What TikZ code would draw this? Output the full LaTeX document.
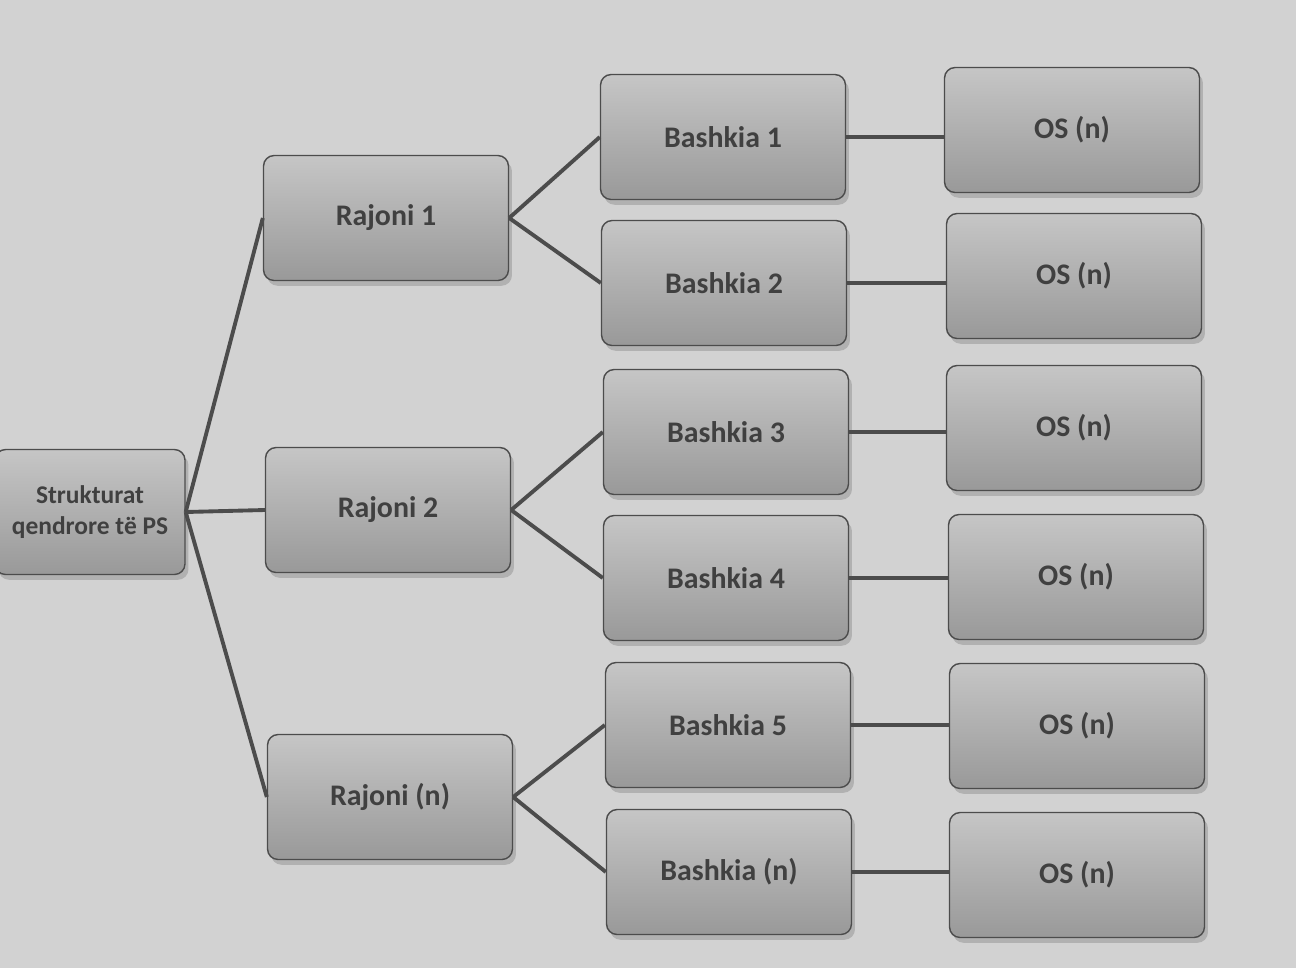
\documentclass[tikz,border=0pt]{standalone}
\usepackage{fontspec}
\setmainfont{Carlito}
\usetikzlibrary{shadows}
\begin{document}
\begin{tikzpicture}[x=0.02cm,y=-0.02cm,
  box/.style={draw=gray!60!black, line width=0.8pt, rounded corners=6pt,
    top color=gray!45, bottom color=gray!80, drop shadow={shadow xshift=2pt,shadow yshift=-3pt,opacity=0.4},
    minimum width=4.9cm, minimum height=2.5cm, align=center,
    font=\bfseries\fontsize{17}{20}\selectfont, text=black!75},
  con/.style={draw=black!70, line width=2.2pt}]
\useasboundingbox[fill=gray!35] (0,0) rectangle (1296,968);
\node[box, minimum width=3.8cm, inner xsep=2pt, font=\bfseries\fontsize{14.5}{18}\selectfont] (ps) at (90,512) {Strukturat\\qendrore të PS};
\node[box] (r1) at (386,218) {Rajoni 1};
\node[box] (r2) at (388,510) {Rajoni 2};
\node[box] (rn) at (390,797) {Rajoni (n)};
\node[box] (b1) at (723,137) {Bashkia 1};
\node[box] (b2) at (724,283) {Bashkia 2};
\node[box] (b3) at (726,432) {Bashkia 3};
\node[box] (b4) at (726,578) {Bashkia 4};
\node[box] (b5) at (728,725) {Bashkia 5};
\node[box] (bn) at (729,872) {Bashkia (n)};
\node[box, minimum width=5.1cm] (o1) at (1072,130) {OS (n)};
\node[box, minimum width=5.1cm] (o2) at (1074,276) {OS (n)};
\node[box, minimum width=5.1cm] (o3) at (1074,428) {OS (n)};
\node[box, minimum width=5.1cm] (o4) at (1076,577) {OS (n)};
\node[box, minimum width=5.1cm] (o5) at (1077,726) {OS (n)};
\node[box, minimum width=5.1cm] (o6) at (1077,875) {OS (n)};
\draw[con] (ps.east) -- (r1.west);
\draw[con] (ps.east) -- (r2.west);
\draw[con] (ps.east) -- (rn.west);
\draw[con] (r1.east) -- (b1.west);
\draw[con] (r1.east) -- (b2.west);
\draw[con] (r2.east) -- (b3.west);
\draw[con] (r2.east) -- (b4.west);
\draw[con] (rn.east) -- (b5.west);
\draw[con] (rn.east) -- (bn.west);
\draw[con] (b1.east) -- (o1.west |- b1.east);
\draw[con] (b2.east) -- (o2.west |- b2.east);
\draw[con] (b3.east) -- (o3.west |- b3.east);
\draw[con] (b4.east) -- (o4.west |- b4.east);
\draw[con] (b5.east) -- (o5.west |- b5.east);
\draw[con] (bn.east) -- (o6.west |- bn.east);
\end{tikzpicture}
\end{document}
